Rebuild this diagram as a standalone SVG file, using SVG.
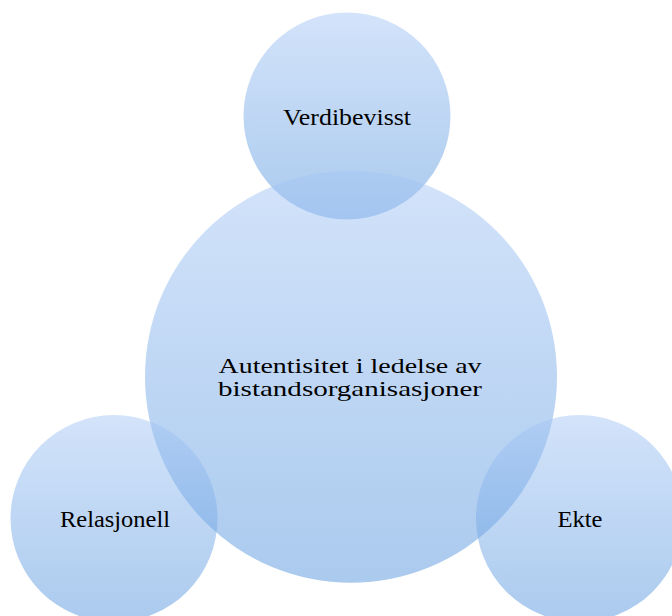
<svg xmlns="http://www.w3.org/2000/svg" width="672" height="616" viewBox="0 0 672 616">
  <defs>
    <linearGradient id="g" x1="0" y1="0" x2="0" y2="1">
      <stop offset="0" stop-color="#a5c6f5"/>
      <stop offset="1" stop-color="#5293dc"/>
    </linearGradient>
  </defs>
  <style>
    .c { fill: url(#g); fill-opacity: 0.49; }
    .t { font-family: "Liberation Serif", "Times New Roman", serif; font-size: 23px; fill: #000; text-anchor: middle; }
    .m { font-size: 22px; }
  </style>
  <rect width="672" height="616" fill="#fff"/>
  <g id="top">
    <circle class="c" cx="347" cy="116" r="103.5"/>
    <text class="t" x="347" y="125" textLength="128" lengthAdjust="spacingAndGlyphs">Verdibevisst</text>
  </g>
  <g id="center">
    <circle class="c" cx="351" cy="376.7" r="206"/>
    <text class="t m" x="350" y="373" textLength="263" lengthAdjust="spacingAndGlyphs">Autentisitet i ledelse av</text>
    <text class="t m" x="350" y="396" textLength="264" lengthAdjust="spacingAndGlyphs">bistandsorganisasjoner</text>
  </g>
  <g id="left">
    <circle class="c" cx="114" cy="518.5" r="103.5"/>
    <text class="t" x="115" y="527" textLength="110" lengthAdjust="spacingAndGlyphs">Relasjonell</text>
  </g>
  <g id="right">
    <circle class="c" cx="579.5" cy="518.5" r="103.5"/>
    <text class="t" x="580" y="527" textLength="45" lengthAdjust="spacingAndGlyphs">Ekte</text>
  </g>
  <g id="connectors"/>
</svg>
